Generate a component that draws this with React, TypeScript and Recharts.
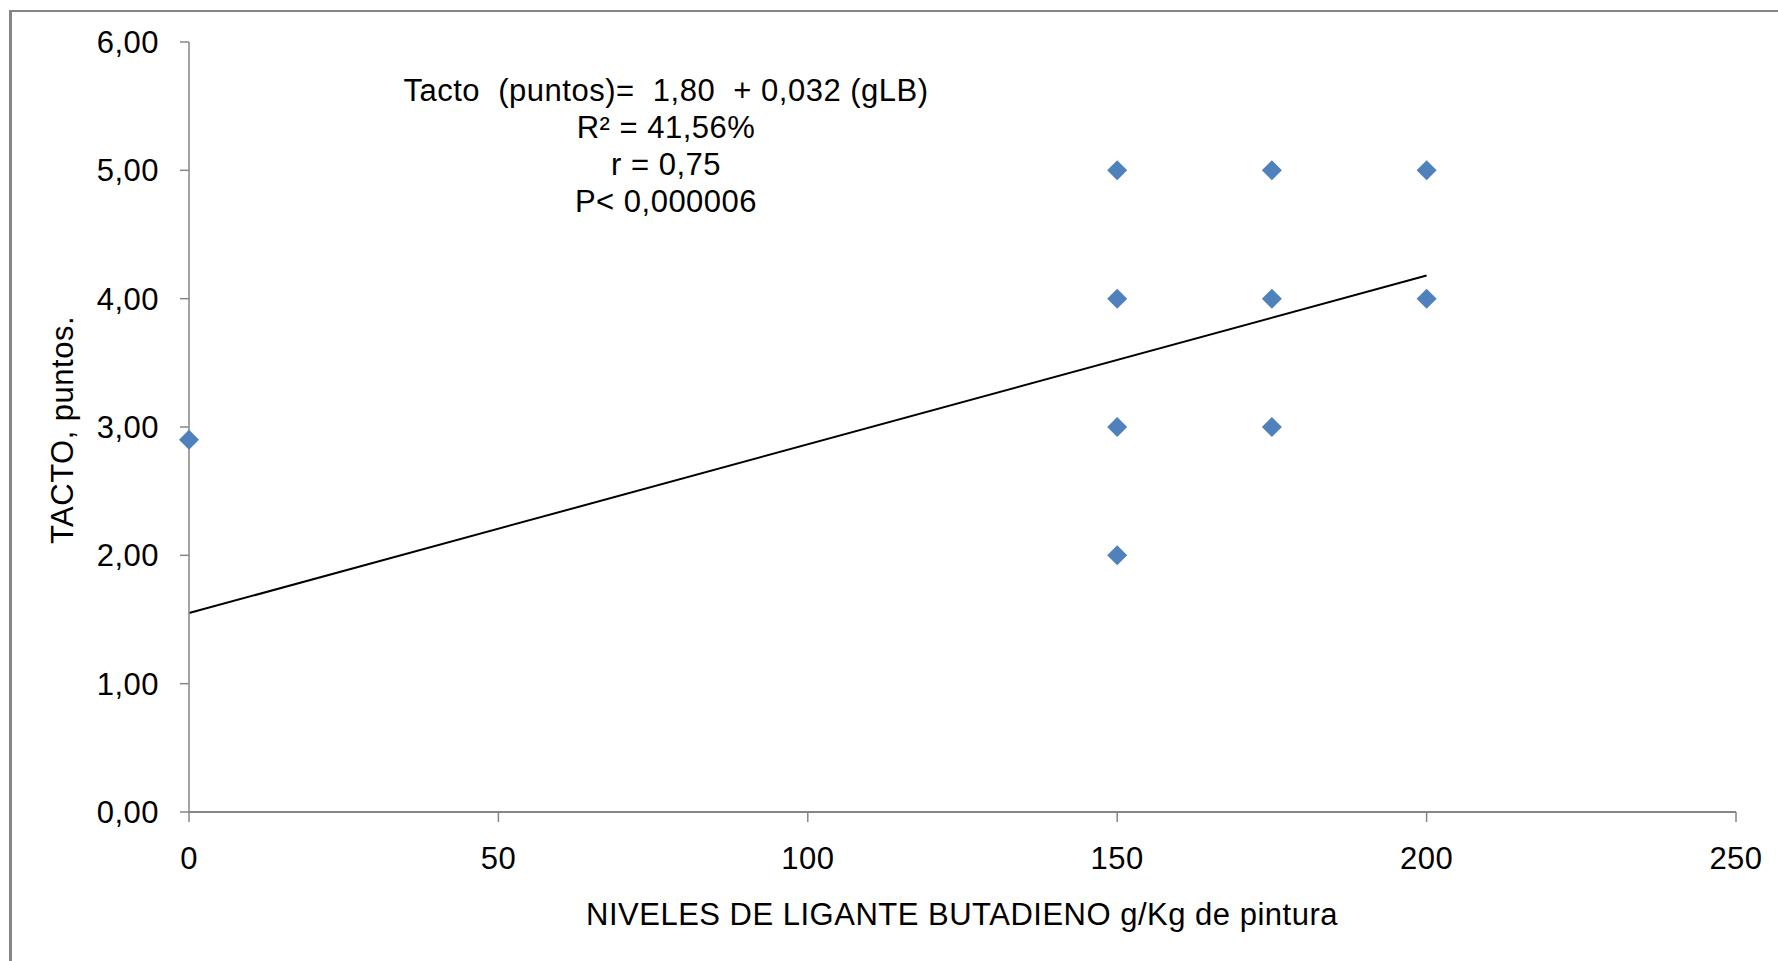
import { ScatterChart, Scatter, XAxis, YAxis, ReferenceLine } from 'recharts';

// Niveles de ligante (g/Kg) y puntuación de tacto observada
const levels = [0, 150, 150, 150, 150, 175, 175, 175, 200, 200];
const tacto = [2.9, 5, 4, 3, 2, 5, 4, 3, 5, 4];

const xTicks = [0, 50, 100, 150, 200, 250];
const yTicks = [0, 1, 2, 3, 4, 5, 6];

// extremos de la recta de tendencia
const trendX = [0, 200];
const trendY = [1.55, 4.18];

const equationLines = [
  'Tacto  (puntos)=  1,80  + 0,032 (gLB)',
  'R² = 41,56%',
  'r = 0,75',
  'P< 0,000006',
];

const FONT = '"Liberation Sans", Arial, sans-serif';
const SPACING = 0.5;
const AXIS_COLOR = '#868686';
const MARKER = '#4F81BD';

const points = levels.map((x, i) => ({ x, y: tacto[i] }));

const fmtY = (v: number) => v.toFixed(2).replace('.', ',');

const tickStyle = { fill: '#000', fontSize: 31, fontFamily: FONT, letterSpacing: SPACING };

function Diamond(props: any) {
  const { cx, cy } = props;
  const r = 10;
  return (
    <polygon
      points={`${cx},${cy - r} ${cx + r},${cy} ${cx},${cy + r} ${cx - r},${cy}`}
      fill={MARKER}
    />
  );
}

export default function App() {
  return (
    <div
      style={{
        position: 'fixed',
        left: 0,
        top: 0,
        width: 1778,
        height: 961,
        overflow: 'hidden',
        background: '#fff',
        fontFamily: FONT,
      }}
    >
      {/* marco del gráfico */}
      <div
        style={{
          position: 'absolute',
          left: 9,
          top: 10,
          width: 1900,
          height: 1100,
          borderLeft: `3px solid ${AXIS_COLOR}`,
          borderTop: `2px solid ${AXIS_COLOR}`,
        }}
      />
      <div style={{ position: 'absolute', left: 0, top: 0 }}>
        <ScatterChart width={1778} height={961} margin={{ top: 42, right: 42, bottom: 89, left: 89 }}>
          <XAxis
            type="number"
            dataKey="x"
            domain={[0, 250]}
            ticks={xTicks}
            height={60}
            tickSize={10}
            tickMargin={25}
            axisLine={{ stroke: AXIS_COLOR, strokeWidth: 2 }}
            tickLine={{ stroke: AXIS_COLOR, strokeWidth: 1.5 }}
            tick={tickStyle}
            label={{
              content: () => (
                <text
                  x={962}
                  y={914}
                  textAnchor="middle"
                  dominantBaseline="central"
                  fontSize={31}
                  fontFamily={FONT}
                  letterSpacing={SPACING}
                  fill="#000"
                >
                  NIVELES DE LIGANTE BUTADIENO g/Kg de pintura
                </text>
              ),
            }}
          />
          <YAxis
            type="number"
            dataKey="y"
            domain={[0, 6]}
            ticks={yTicks}
            width={100}
            tickSize={9}
            tickMargin={21}
            tickFormatter={fmtY}
            axisLine={{ stroke: AXIS_COLOR, strokeWidth: 1.5 }}
            tickLine={{ stroke: AXIS_COLOR, strokeWidth: 1.5 }}
            tick={tickStyle}
            label={{
              content: () => (
                <text
                  x={62}
                  y={430}
                  transform="rotate(-90 62 430)"
                  textAnchor="middle"
                  dominantBaseline="central"
                  fontSize={31}
                  fontFamily={FONT}
                  letterSpacing={SPACING}
                  fill="#000"
                >
                  TACTO, puntos.
                </text>
              ),
            }}
          />
          <Scatter data={points} shape={<Diamond />} isAnimationActive={false} />
          <ReferenceLine
            segment={[
              { x: trendX[0], y: trendY[0] },
              { x: trendX[1], y: trendY[1] },
            ]}
            stroke="#000"
            strokeWidth={2}
          />
        </ScatterChart>
      </div>
      <div
        style={{
          position: 'absolute',
          left: 666,
          top: 72,
          transform: 'translateX(-50%)',
          textAlign: 'center',
          whiteSpace: 'pre',
          fontSize: 31,
          lineHeight: '37px',
          letterSpacing: SPACING,
          color: '#000',
        }}
      >
        {equationLines.map((line) => (
          <div key={line}>{line}</div>
        ))}
      </div>
    </div>
  );
}
